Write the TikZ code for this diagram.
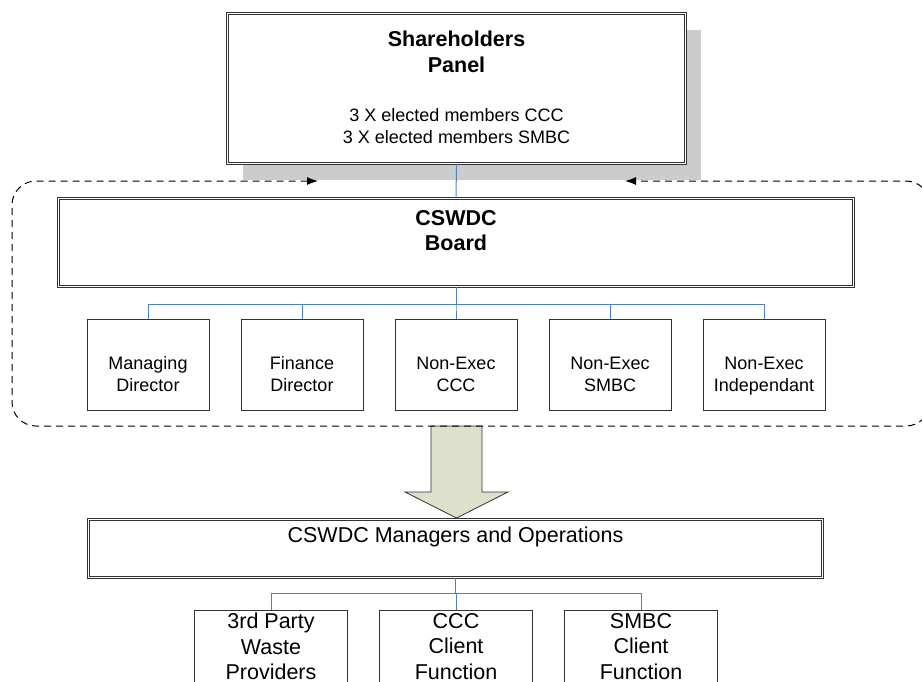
\documentclass[tikz,border=0pt]{standalone}
\usepackage{fontspec}
\setmainfont{Liberation Sans}
\usetikzlibrary{arrows.meta,positioning,shadows}
\definecolor{linkblue}{RGB}{79,129,189}
\definecolor{shade}{RGB}{204,204,204}
\definecolor{arrowfill}{RGB}{221,224,203}
\definecolor{edge}{RGB}{50,50,50}

\begin{document}
\begin{tikzpicture}[x=1pt,y=-1pt,node distance=31pt,font=\fontsize{18}{22}\selectfont,
  dbox/.style={draw=edge,fill=white,double,double distance=1.6pt,line width=0.9pt},
  member/.style={draw=edge,fill=white,line width=1pt,minimum width=122pt,minimum height=91pt},
  client/.style={draw=edge,fill=white,line width=1pt,minimum width=153pt,minimum height=110pt},
  lbl/.style={inner sep=0pt,align=center},
  ttl/.style={lbl,font=\fontsize{21.5}{25.5}\selectfont\bfseries},
  big/.style={lbl,font=\fontsize{21.5}{25.5}\selectfont},
  link/.style={draw=linkblue,line width=1pt},
  bound/.style={draw=black,line width=1pt,dash pattern=on 7pt off 5pt,rounded corners=24pt}]
\clip (0,0) rectangle (922,681);
% shareholders panel
\node[dbox,minimum width=458pt,minimum height=150pt,drop shadow={shadow xshift=15pt,shadow yshift=-16pt,fill=shade,opacity=1}] (panel) at (456.5,88.5) {};
\node[ttl,below=18pt of panel.north] (panelT) {Shareholders\\Panel};
\node[lbl,below=95pt of panel.north] (panelM) {3 X elected members CCC\\3 X elected members SMBC};
% board and its members
\node[dbox,minimum width=795pt,minimum height=88pt] (board) at (456,242.5) {};
\node[ttl,below=12pt of board.north] (boardT) {CSWDC\\Board};
\node[member] (ned) at (456,365) {};
\node[member,left=of ned] (fd) {};
\node[member,left=of fd] (md) {};
\node[member,right=of ned] (nes) {};
\node[member,right=of nes] (nei) {};
\foreach \n/\t in {md/Managing\\Director,fd/Finance\\Director,ned/Non-Exec\\CCC,nes/Non-Exec\\SMBC,nei/Non-Exec\\Independant}
  \node[lbl,below=37.5pt of \n.north] {\t};
\draw[link] (panel.south) -- (board.north);
\foreach \n in {md,fd,ned,nes,nei}
  \draw[link] (board.south) |- ([yshift=15pt]\n.north) -- (\n.north);
% big arrow down to operations
\draw[draw=edge,fill=arrowfill,line width=0.8pt] (431,426) -- (482,426) -- (482,492) -- (508,492) -- (456.5,518) -- (405,492) -- (431,492) -- cycle;
% dashed board boundary
\coordinate (inL) at (318,181);
\coordinate (inR) at (625,181);
\draw[bound,{Latex[length=11pt,width=8pt]}-{Latex[length=11pt,width=8pt]}] (inL) -- (12,181) -- (12,426) -- (930,426) -- (930,181) -- (inR);
% managers and clients
\node[dbox,minimum width=734pt,minimum height=58pt] (mgr) at (455.5,548.5) {};
\node[big,below=7.5pt of mgr.north] (mgrT) {CSWDC Managers and Operations};
\node[client] (ccc) at (456,665) {};
\node[client,left=of ccc] (tpw) {};
\node[client,right=of ccc] (smbc) {};
\foreach \n/\t in {tpw/3rd Party\\Waste\\Providers,ccc/CCC\\Client\\Function,smbc/SMBC\\Client\\Function}
  \node[big,below=3.5pt of \n.north] {\t};
\foreach \n in {tpw,ccc,smbc}
  \draw[link] (mgr.south) |- ([yshift=16pt]\n.north) -- (\n.north);
\end{tikzpicture}
\end{document}
